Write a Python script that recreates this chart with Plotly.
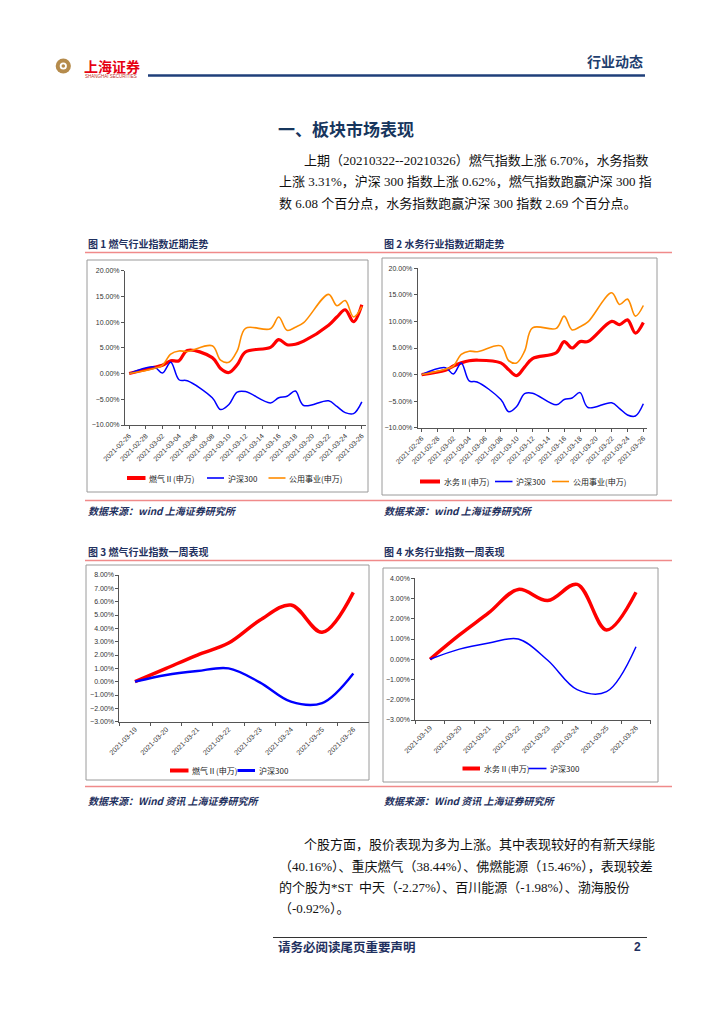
import plotly.graph_objects as go

W, H = 724, 1024

# ---------------- data ----------------
dates_long = ["2021-02-26", "2021-03-01", "2021-03-02", "2021-03-03", "2021-03-04", "2021-03-05",
              "2021-03-08", "2021-03-09", "2021-03-10", "2021-03-11", "2021-03-12", "2021-03-15",
              "2021-03-16", "2021-03-17", "2021-03-18", "2021-03-19", "2021-03-22", "2021-03-23",
              "2021-03-24", "2021-03-25", "2021-03-26"]
gas_long = [0, 1.2, 1.6, 2.5, 2.5, 4.5, 3.1, 1.0, 0.2, 1.7, 4.2, 5.1, 6.6, 5.6, 5.7, 6.3,
            9.4, 11.0, 12.4, 10.1, 13.4]
water_long = [0, 0.8, 1.6, 2.2, 2.6, 2.7, 2.2, 0.9, -0.2, 1.4, 3.0, 4.1, 6.2, 5.0, 6.2, 6.2,
              10.0, 9.4, 10.3, 7.8, 9.8]
hs300_long = [0, 1.3, 0.1, 2.2, -1.2, -1.4, -4.7, -7.0, -6.0, -3.6, -3.5, -5.7, -4.7, -4.4, -3.4,
              -6.2, -5.3, -6.4, -7.6, -7.8, -5.5]
util_long = [0, 1.0, 1.6, 3.8, 4.4, 4.3, 5.4, 2.6, 2.2, 4.4, 8.8, 8.7, 11.0, 8.4, 9.0, 9.9,
             15.4, 13.2, 14.2, 11.0, 13.0]
tick_dates_long = ["2021-02-26", "2021-02-28", "2021-03-02", "2021-03-04", "2021-03-06", "2021-03-08",
                   "2021-03-10", "2021-03-12", "2021-03-14", "2021-03-16", "2021-03-18", "2021-03-20",
                   "2021-03-22", "2021-03-24", "2021-03-26"]

week_dates = ["2021-03-19", "2021-03-20", "2021-03-21", "2021-03-22", "2021-03-23", "2021-03-24",
              "2021-03-25", "2021-03-26"]
gas_week = [0, 1.0, 2.0, 2.9, 4.6, 5.75, 3.7, 6.7]
water_week = [0, 1.2, 2.3, 3.45, 2.9, 3.7, 1.45, 3.31]
hs300_week = [0, 0.5, 0.8, 1.0, -0.05, -1.5, -1.6, 0.62]

legend1 = ["燃气Ⅱ(申万)", "沪深300", "公用事业(申万)"]
legend2 = ["水务Ⅱ(申万)", "沪深300", "公用事业(申万)"]
legend3 = ["燃气Ⅱ(申万)", "沪深300"]
legend4 = ["水务Ⅱ(申万)", "沪深300"]

RED, BLUE, ORANGE = "#FF0000", "#0000FF", "#FF8C00"
NAVY = "#1F3160"


def X(p):
    return p / W


def Y(p):
    return 1 - p / H


fig = go.Figure()

# chart 1
fig.add_trace(go.Scatter(x=dates_long, y=gas_long, mode="lines", line=dict(color=RED, width=3.2, shape="spline"),
                         xaxis="x", yaxis="y", showlegend=False))
fig.add_trace(go.Scatter(x=dates_long, y=hs300_long, mode="lines", line=dict(color=BLUE, width=1.5, shape="spline"),
                         xaxis="x", yaxis="y", showlegend=False))
fig.add_trace(go.Scatter(x=dates_long, y=util_long, mode="lines", line=dict(color=ORANGE, width=1.6, shape="spline"),
                         xaxis="x", yaxis="y", showlegend=False))
# chart 2
fig.add_trace(go.Scatter(x=dates_long, y=water_long, mode="lines", line=dict(color=RED, width=3.2, shape="spline"),
                         xaxis="x2", yaxis="y2", showlegend=False))
fig.add_trace(go.Scatter(x=dates_long, y=hs300_long, mode="lines", line=dict(color=BLUE, width=1.5, shape="spline"),
                         xaxis="x2", yaxis="y2", showlegend=False))
fig.add_trace(go.Scatter(x=dates_long, y=util_long, mode="lines", line=dict(color=ORANGE, width=1.6, shape="spline"),
                         xaxis="x2", yaxis="y2", showlegend=False))
# chart 3
fig.add_trace(go.Scatter(x=week_dates, y=gas_week, mode="lines", line=dict(color=RED, width=3.5, shape="spline"),
                         xaxis="x3", yaxis="y3", showlegend=False))
fig.add_trace(go.Scatter(x=week_dates, y=hs300_week, mode="lines", line=dict(color=BLUE, width=2.4, shape="spline"),
                         xaxis="x3", yaxis="y3", showlegend=False))
# chart 4
fig.add_trace(go.Scatter(x=week_dates, y=water_week, mode="lines", line=dict(color=RED, width=3.5, shape="spline"),
                         xaxis="x4", yaxis="y4", showlegend=False))
fig.add_trace(go.Scatter(x=week_dates, y=hs300_week, mode="lines", line=dict(color=BLUE, width=1.5, shape="spline"),
                         xaxis="x4", yaxis="y4", showlegend=False))

tickfont = dict(size=7, color="#333333", family="Liberation Sans, Arial")
ax = dict(showline=True, linecolor="#555555", linewidth=1, ticks="outside", ticklen=3, tickcolor="#555555",
          showgrid=False, zeroline=False, tickfont=tickfont, fixedrange=True, automargin=False)

xdate = dict(ax, type="date", range=["2021-02-25 12:00", "2021-03-26 12:00"], tickvals=tick_dates_long,
             ticktext=tick_dates_long, tickangle=-45)
xcat = dict(ax, type="category", range=[-0.5, 7.5], tickangle=-45, tickson="boundaries")


def ypct(lo, hi, step):
    return dict(ax, range=[lo, hi], dtick=step, tick0=0, tickformat=".2f", ticksuffix="%")


fig.update_layout(
    xaxis=dict(xdate, domain=[X(125), X(366)], anchor="y"),
    yaxis=dict(ypct(-10, 20, 5), domain=[Y(425), Y(270.7)], anchor="x"),
    xaxis2=dict(xdate, domain=[X(417.7), X(647.3)], anchor="y2"),
    yaxis2=dict(ypct(-10, 20, 5), domain=[Y(427.7), Y(268.3)], anchor="x2"),
    xaxis3=dict(xcat, domain=[X(119.4), X(368.9)], anchor="y3"),
    yaxis3=dict(ypct(-3, 8, 1), domain=[Y(721.7), Y(575)], anchor="x3"),
    xaxis4=dict(xcat, domain=[X(415.3), X(650.7)], anchor="y4"),
    yaxis4=dict(ypct(-3, 4, 1), domain=[Y(720), Y(578.3)], anchor="x4"),
)

shapes = []
anns = []


def hline(x0, x1, y, color, width):
    shapes.append(dict(type="line", xref="paper", yref="paper", x0=X(x0), x1=X(x1), y0=Y(y), y1=Y(y),
                       line=dict(color=color, width=width)))


def box(x0, y0, x1, y1):
    shapes.append(dict(type="rect", xref="paper", yref="paper", x0=X(x0), x1=X(x1), y0=Y(y1), y1=Y(y0),
                       line=dict(color="#9A9A9A", width=1), fillcolor="rgba(0,0,0,0)", layer="below"))


def text(x, y, s, size, color="#000000", family="Liberation Serif, Noto Sans CJK SC", anchor="left"):
    anns.append(dict(x=X(x), y=Y(y), xref="paper", yref="paper", text=s, showarrow=False, xanchor=anchor,
                     yanchor="middle", font=dict(size=size, color=color, family=family)))


def circle(cx, cy, r, color):
    shapes.append(dict(type="circle", xref="paper", yref="paper", x0=X(cx - r), x1=X(cx + r), y0=Y(cy + r),
                       y1=Y(cy - r), line=dict(width=0), fillcolor=color))


# header
circle(63.3, 66, 7.6, "#B58B4C")
circle(63.3, 66, 3.6, "#FFFFFF")
circle(63.3, 66, 1.8, "#B58B4C")
text(82, 65.5, "<b>上海证券</b>", 14, "#E60012", "Noto Sans CJK SC")
text(83, 76, "SHANGHAI SECURITIES", 4.5, "#C0302A", "Liberation Sans")
hline(148, 645, 75.5, "#1F3F7A", 2.5)
text(645, 61, "<b>行业动态</b>", 14, "#1F3F6F", "Noto Sans CJK SC", anchor="right")

# title + paragraph 1
text(276, 128.5, "<b>一、板块市场表现</b>", 17, "#17365D", "Noto Sans CJK SC")
para1 = ["上期（20210322--20210326）燃气指数上涨 6.70%，水务指数",
         "上涨 3.31%，沪深 300 指数上涨 0.62%，燃气指数跑赢沪深 300 指",
         "数 6.08 个百分点，水务指数跑赢沪深 300 指数 2.69 个百分点。"]
para1_y = [160, 181.5, 203]
para1_x = [302, 277, 277]
for s, yy, xx in zip(para1, para1_y, para1_x):
    text(xx, yy, s, 13, "#111111")

# captions / separators
cap_font = "Noto Sans CJK SC"
text(86, 243, "<b>图 1 燃气行业指数近期走势</b>", 10, NAVY, cap_font)
text(382, 243, "<b>图 2 水务行业指数近期走势</b>", 10, NAVY, cap_font)
hline(85, 672, 252.5, "#F08A8A", 1.5)
box(87, 260, 368, 492)
box(382, 258, 657, 495)
hline(85, 672, 500.5, "#F08A8A", 1.5)
text(86, 510.5, "<b><i>数据来源：wind 上海证券研究所</i></b>", 10, NAVY, cap_font)
text(382, 510.5, "<b><i>数据来源：wind 上海证券研究所</i></b>", 10, NAVY, cap_font)

text(86, 551, "<b>图 3 燃气行业指数一周表现</b>", 10, NAVY, cap_font)
text(382, 551, "<b>图 4 水务行业指数一周表现</b>", 10, NAVY, cap_font)
hline(85, 672, 560.5, "#F08A8A", 1.5)
box(86, 565, 369, 780)
box(383, 568, 658, 782)
hline(85, 672, 786.5, "#F08A8A", 1.5)
text(86, 800, "<b><i>数据来源：Wind 资讯 上海证券研究所</i></b>", 10, NAVY, cap_font)
text(382, 800, "<b><i>数据来源：Wind 资讯 上海证券研究所</i></b>", 10, NAVY, cap_font)


# custom legends
def legend(y, items):
    for (x0, x1, tx), label, color, width in items:
        shapes.append(dict(type="line", xref="paper", yref="paper", x0=X(x0), x1=X(x1), y0=Y(y), y1=Y(y),
                           line=dict(color=color, width=width)))
        text(tx, y, label, 8, "#222222", "Noto Sans CJK SC")


legend(478, [((127, 145.5, 147), legend1[0], RED, 4),
             ((207, 224, 225.5), legend1[1], BLUE, 1.6),
             ((268.5, 285.5, 287), legend1[2], ORANGE, 1.6)])
legend(481.5, [((420, 440, 441.5), legend2[0], RED, 4),
               ((495, 512.5, 514), legend2[1], BLUE, 1.6),
               ((552, 569, 570.5), legend2[2], ORANGE, 1.6)])
legend(770.5, [((170, 188.5, 190), legend3[0], RED, 4),
               ((237.5, 255, 256.5), legend3[1], BLUE, 3)])
legend(768.5, [((462.5, 480, 481.5), legend4[0], RED, 4),
               ((528.5, 546.5, 548), legend4[1], BLUE, 1.6)])

# paragraph 2
para2 = ["个股方面，股价表现为多为上涨。其中表现较好的有新天绿能",
         "（40.16%）、重庆燃气（38.44%）、佛燃能源（15.46%），表现较差",
         "的个股为*ST  中天（-2.27%）、百川能源（-1.98%）、渤海股份",
         "（-0.92%）。"]
para2_y = [844, 866, 887, 908]
para2_x = [302, 277, 277, 277]
for s, yy, xx in zip(para2, para2_y, para2_x):
    text(xx, yy, s, 13, "#111111")

# footer
hline(273, 647, 937.5, "#333333", 1)
text(276, 946.5, "<b>请务必阅读尾页重要声明</b>", 12.5, NAVY, "Noto Sans CJK SC")
text(632, 946.5, "<b>2</b>", 12, NAVY, "Liberation Sans")

fig.update_layout(
    width=W, height=H, margin=dict(l=0, r=0, t=0, b=0, pad=0, autoexpand=False),
    paper_bgcolor="white", plot_bgcolor="white",
    shapes=shapes, annotations=anns, showlegend=False,
)

fig.write_html("out.html", config={"displayModeBar": False},
               post_script="document.body.style.margin='0';")
